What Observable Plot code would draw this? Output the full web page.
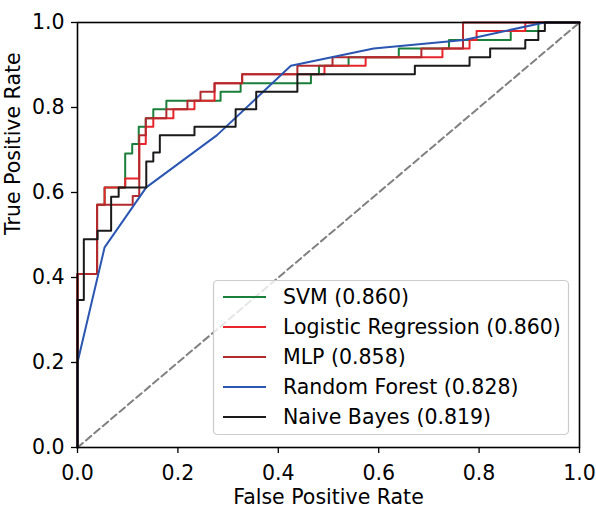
<!DOCTYPE html>
<html>
<head>
<meta charset="utf-8">
<script src="https://cdn.jsdelivr.net/npm/d3@7"></script>
<script src="https://cdn.jsdelivr.net/npm/@observablehq/plot@0.6"></script>
<style>
  html, body { margin: 0; padding: 0; background: white; }
  #chart svg { display: block; }
</style>
</head>
<body>
<div id="chart"></div>
<script>
// ---- Data ----
const seriesNames = ["SVM", "Logistic Regression", "MLP", "Random Forest", "Naive Bayes"];
const seriesAUC = [0.860, 0.860, 0.858, 0.828, 0.819];
const seriesColors = ["#1a7f3a", "#e8252b", "#b22a2e", "#2a56b2", "#1a1a1a"];

// step curves: points are the top corners (x where TPR rises, TPR after rise)
const svmFPR = [0, 0, 0.039, 0.054, 0.095, 0.109, 0.122, 0.136, 0.151, 0.177, 0.285, 0.325, 0.465, 0.481, 0.540, 0.640, 0.740, 0.863, 0.918, 1];
const svmTPR = [0, 0.408, 0.571, 0.612, 0.692, 0.714, 0.755, 0.775, 0.796, 0.816, 0.837, 0.857, 0.878, 0.898, 0.918, 0.939, 0.959, 0.980, 1, 1];

const lrFPR = [0, 0, 0.039, 0.054, 0.095, 0.123, 0.136, 0.151, 0.191, 0.233, 0.273, 0.328, 0.492, 0.574, 0.727, 0.781, 0.795, 0.892, 1];
const lrTPR = [0, 0.408, 0.571, 0.612, 0.633, 0.714, 0.755, 0.775, 0.796, 0.816, 0.857, 0.878, 0.898, 0.918, 0.939, 0.959, 0.980, 1, 1];

const mlpFPR = [0, 0, 0.039, 0.110, 0.123, 0.136, 0.177, 0.219, 0.245, 0.273, 0.328, 0.438, 0.508, 0.685, 0.768, 1];
const mlpTPR = [0, 0.408, 0.571, 0.592, 0.735, 0.775, 0.796, 0.816, 0.837, 0.857, 0.878, 0.898, 0.918, 0.939, 1, 1];

// random forest: straight segments between points
const rfFPR = [0, 0, 0.054, 0.137, 0.278, 0.425, 0.590, 0.770, 0.930, 1];
const rfTPR = [0, 0.200, 0.471, 0.612, 0.735, 0.898, 0.939, 0.959, 1, 1];

const nbFPR = [0, 0, 0.0126, 0.040, 0.067, 0.082, 0.137, 0.151, 0.164, 0.233, 0.315, 0.356, 0.438, 0.672, 0.781, 0.822, 0.892, 0.918, 0.931, 1];
const nbTPR = [0, 0.347, 0.490, 0.510, 0.590, 0.612, 0.673, 0.694, 0.735, 0.755, 0.796, 0.837, 0.878, 0.898, 0.918, 0.939, 0.959, 0.980, 1, 1];

const diagX = [0, 1];
const diagY = [0, 1];

const xTicks = [0, 0.2, 0.4, 0.6, 0.8, 1.0];
const yTicks = [0, 0.2, 0.4, 0.6, 0.8, 1.0];
const xLabel = "False Positive Rate";
const yLabel = "True Positive Rate";

// ---- Build tables ----
const toRows = (xs, ys) => xs.map((x, i) => ({fpr: x, tpr: ys[i]}));
const svmRows = toRows(svmFPR, svmTPR);
const lrRows = toRows(lrFPR, lrTPR);
const mlpRows = toRows(mlpFPR, mlpTPR);
const rfRows = toRows(rfFPR, rfTPR);
const nbRows = toRows(nbFPR, nbTPR);
const diagRows = toRows(diagX, diagY);

const FONT = "'DejaVu Sans', sans-serif";
const FS = 20.5;
const LW = 2;

const chart = Plot.plot({
  width: 596,
  height: 507,
  marginLeft: 77,
  marginRight: 17,
  marginTop: 22,
  marginBottom: 60,
  style: {fontFamily: FONT, fontSize: FS + "px", color: "#000", background: "white", overflow: "visible"},
  x: {domain: [0, 1]},
  y: {domain: [0, 1]},
  marks: [
    Plot.line(diagRows, {x: "fpr", y: "tpr", stroke: "#808080", strokeWidth: 2, strokeDasharray: "7,4"}),
    Plot.line(svmRows, {x: "fpr", y: "tpr", curve: "step-after", stroke: seriesColors[0], strokeWidth: LW}),
    Plot.line(lrRows, {x: "fpr", y: "tpr", curve: "step-after", stroke: seriesColors[1], strokeWidth: LW}),
    Plot.line(mlpRows, {x: "fpr", y: "tpr", curve: "step-after", stroke: seriesColors[2], strokeWidth: LW}),
    Plot.line(rfRows, {x: "fpr", y: "tpr", curve: "linear", stroke: seriesColors[3], strokeWidth: LW}),
    Plot.line(nbRows, {x: "fpr", y: "tpr", curve: "step-after", stroke: seriesColors[4], strokeWidth: LW}),
    Plot.frame({stroke: "#000", strokeWidth: 1.6}),
    Plot.axisX({ticks: xTicks, tickSize: 6, tickPadding: 12, tickFormat: d3.format(".1f"), label: null, fontSize: FS, strokeWidth: 1.3}),
    Plot.axisY({ticks: yTicks, tickSize: 6, tickPadding: 7, tickFormat: d3.format(".1f"), label: null, fontSize: FS, strokeWidth: 1.3}),
    Plot.text([xLabel], {frameAnchor: "bottom", dy: 56, fontSize: FS, fill: "#000"}),
    Plot.text([yLabel], {frameAnchor: "left", dx: -64, rotate: -90, fontSize: FS, fill: "#000"})
  ]
});

// ---- Legend (matplotlib-style, lower right) ----
const svg = d3.select(chart);
const lg = svg.append("g").attr("font-family", FONT).attr("font-size", FS).attr("text-anchor", "start");
lg.append("rect")
  .attr("x", 213.5).attr("y", 280.5)
  .attr("width", 355).attr("height", 154)
  .attr("rx", 4).attr("ry", 4)
  .attr("fill", "white").attr("fill-opacity", 0.8)
  .attr("stroke", "#cccccc").attr("stroke-width", 1.2);
seriesNames.forEach((name, i) => {
  const cy = 297 + 30 * i;
  lg.append("line")
    .attr("x1", 223).attr("x2", 266)
    .attr("y1", cy).attr("y2", cy)
    .attr("stroke", seriesColors[i]).attr("stroke-width", LW);
  lg.append("text")
    .attr("x", 283).attr("y", cy).attr("dy", "0.35em")
    .attr("text-anchor", "start")
    .attr("fill", "#000")
    .text(`${name} (${seriesAUC[i].toFixed(3)})`);
});

document.getElementById("chart").appendChild(chart);
</script>
</body>
</html>
